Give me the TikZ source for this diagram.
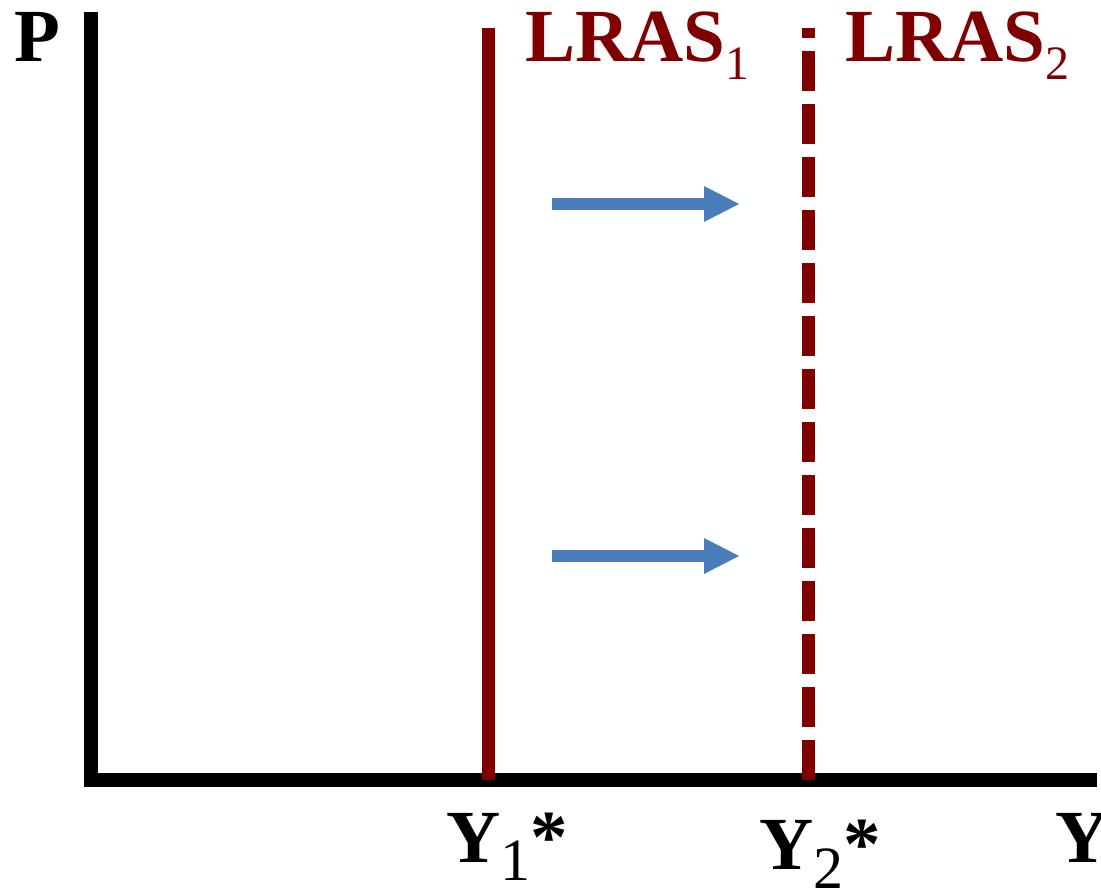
\documentclass[tikz,border=0pt]{standalone}
\usepackage{fontspec}
\setmainfont{Liberation Serif}
\usetikzlibrary{arrows.meta}
\definecolor{lrasred}{RGB}{128,0,0}
\definecolor{shiftblue}{RGB}{74,126,187}
\newcommand{\bigbold}{\fontsize{75}{75}\selectfont\bfseries}
% index set low and in the upright medium weight: [drop]{size}{digit}
\newcommand{\lowidx}[3][18pt]{\raisebox{-#1}{\fontsize{#2}{#2}\selectfont\mdseries #3}}

\begin{document}
\begin{tikzpicture}[
  x=1pt, y=-1pt,
  every node/.append style={inner sep=0pt, font=\bigbold},
  axis/.style={draw, line width=14pt, line join=miter},
  lras/.style={draw=lrasred, line width=13pt},
  newlras/.style={lras, dash pattern=on 40pt off 13pt},
  shiftarrow/.style={draw=shiftblue, line width=12pt,
    -{Triangle[length=35pt, width=36pt, line width=0pt]}},
  axislabel/.style={anchor=base west},
  lraslabel/.style={anchor=base west, text=lrasred},
]
\useasboundingbox (0,0) rectangle (1101,888);

% ------------------------------------------------------------- axes
\coordinate (ptop) at (91,12);
\coordinate (origin) at (91,780);
\coordinate (yend) at (1097,780);
\draw[axis] (ptop) -- (origin) -- (yend);

\node[axislabel] (plabel) at (14,62) {P};
\node[axislabel] (ylabel) at (1055,862) {Y};

% ------------------------------------------------- the two LRAS curves
% The old one solid, the new one dashed; the dashes are counted up from
% the axis so that a whole dash sits on it.
\coordinate (lras1bot) at (488,780);
\coordinate (lras1top) at (488,28);
\coordinate (lras2bot) at (808,780);
\coordinate (lras2top) at (808,28);
\draw[lras] (lras1bot) -- (lras1top);
\draw[newlras] (lras2bot) -- (lras2top);

\node[lraslabel] (lras1label) at (525,62) {LRAS\lowidx{48}{1}};
\node[lraslabel] (lras2label) at (845,62) {LRAS\lowidx{48}{2}};

\node[axislabel] (y1label) at (446,862) {Y\lowidx{60}{1}*};
\node[axislabel] (y2label) at (759,869) {Y\lowidx[19pt]{60}{2}*};

% ------------------------------------------------------------ the shift
\foreach \n/\y in {1/204, 2/556}{
  \coordinate (shift\n from) at (552,\y);
  \coordinate (shift\n to) at (739,\y);
  \draw[shiftarrow] (shift\n from) -- (shift\n to);
}

\end{tikzpicture}
\end{document}
